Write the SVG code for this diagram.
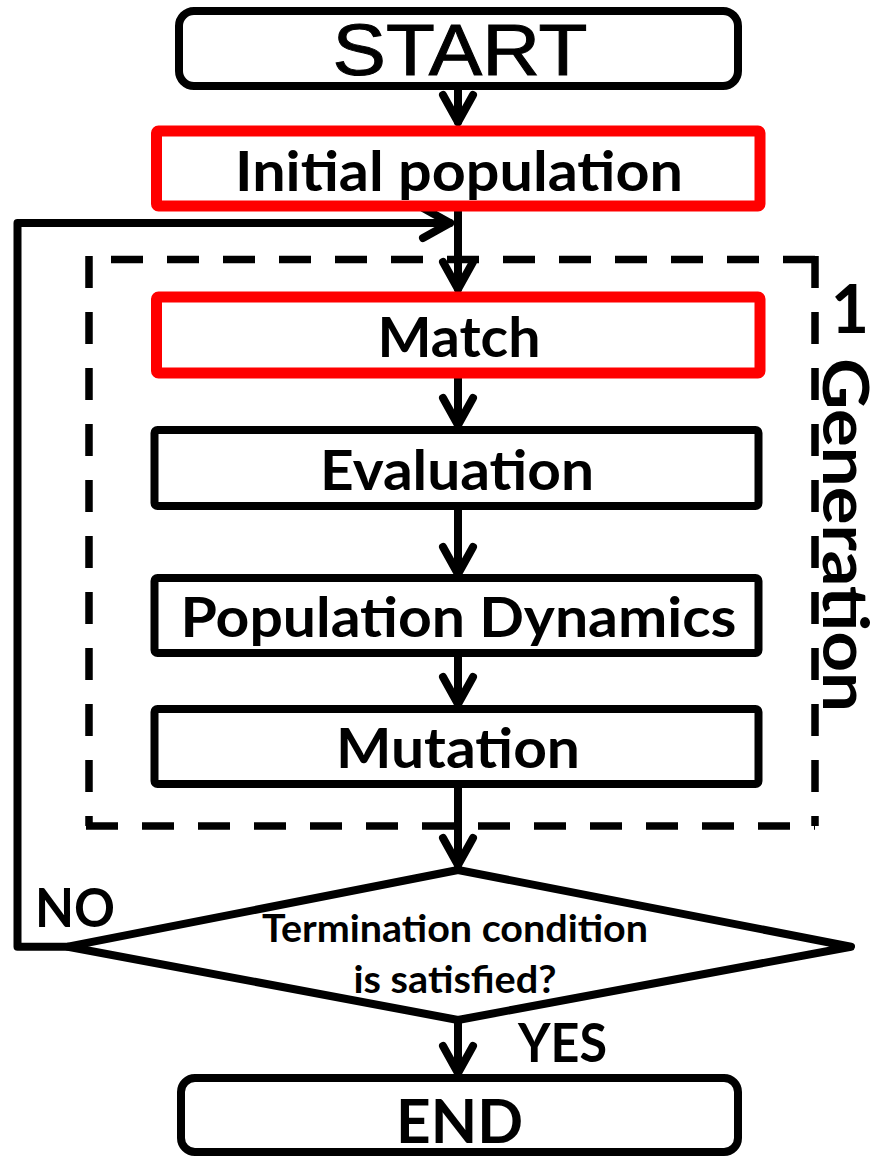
<svg xmlns="http://www.w3.org/2000/svg" width="873" height="1157" viewBox="0 0 873 1157">
<style>
.bg{fill:#fff}
.term{fill:#fff;stroke:#000;stroke-width:8}
.red{fill:#fff;stroke:#ff0000;stroke-width:11;stroke-linejoin:round}
.blk{fill:#fff;stroke:#000;stroke-width:8;stroke-linejoin:round}
.dia{fill:#fff;stroke:#000;stroke-width:8;stroke-linejoin:round}
.con{fill:none;stroke:#000;stroke-width:8;stroke-linecap:round;stroke-linejoin:round}
.dash{fill:none;stroke:#000;stroke-width:7.5;stroke-dasharray:32 24}
.t{font-family:Lato,"Open Sans","DejaVu Sans",sans-serif;font-weight:bold;fill:#000}
.c{text-anchor:middle}
.start{font-family:"Liberation Sans",Arial,sans-serif;font-size:73px;fill:#000;stroke:#000;stroke-width:1;text-anchor:middle}
</style>
<defs>
<marker id="arr" markerUnits="userSpaceOnUse" markerWidth="60" markerHeight="60" viewBox="-40 -30 60 60" refX="0" refY="0" orient="auto" overflow="visible">
<path d="M-27,-15 L0,0 L-27,15" fill="none" stroke="#000" stroke-width="8" stroke-linecap="round" stroke-linejoin="round"/>
</marker>
</defs>
<rect class="bg" x="0" y="0" width="873" height="1157"/>

<g id="generation-frame">
<line class="dash" x1="815" y1="259.5" x2="89" y2="259.5"/>
<line class="dash" x1="89" y1="256" x2="89" y2="826"/>
<line class="dash" x1="86" y1="826" x2="815" y2="826"/>
<line class="dash" x1="815" y1="256" x2="815" y2="826"/>
<text class="t c" x="850" y="333" font-size="66">1</text>
<text class="t" transform="translate(823,358) rotate(90)" font-size="64" textLength="354" lengthAdjust="spacingAndGlyphs">Generation</text>
</g>

<g id="connectors">
<path class="con" d="M458,89 L458,122" marker-end="url(#arr)"/>
<path class="con" d="M458,206 L458,289" marker-end="url(#arr)"/>
<path class="con" d="M458,373 L458,425" marker-end="url(#arr)"/>
<path class="con" d="M458,506 L458,574" marker-end="url(#arr)"/>
<path class="con" d="M458,653 L458,704" marker-end="url(#arr)"/>
<path class="con" d="M458,784 L458,865" marker-end="url(#arr)"/>
<path class="con" d="M458,1020 L458,1073" marker-end="url(#arr)"/>
<path class="con" d="M68,946.7 L17.5,946.7 L17.5,223 L450,223" marker-end="url(#arr)"/>
</g>

<g id="start">
<rect class="term" x="179" y="11" width="559" height="75" rx="15"/>
<text class="start" x="460" y="75" textLength="255" lengthAdjust="spacingAndGlyphs">START</text>
</g>

<g id="initial-population">
<rect class="red" x="156.5" y="131" width="603.5" height="75" rx="2"/>
<text class="t c" x="459" y="190.7" font-size="56" textLength="448" lengthAdjust="spacingAndGlyphs">Initial population</text>
</g>

<g id="match">
<rect class="red" x="156.5" y="297" width="603.5" height="76" rx="2"/>
<text class="t c" x="459" y="356.5" font-size="56" textLength="163" lengthAdjust="spacingAndGlyphs">Match</text>
</g>

<g id="evaluation">
<rect class="blk" x="154.5" y="430" width="604" height="76" rx="3"/>
<text class="t c" x="457" y="490" font-size="56" textLength="274" lengthAdjust="spacingAndGlyphs">Evaluation</text>
</g>

<g id="population-dynamics">
<rect class="blk" x="154.5" y="578" width="604" height="75" rx="3"/>
<text class="t c" x="458.5" y="637" font-size="56" textLength="556" lengthAdjust="spacingAndGlyphs">Population Dynamics</text>
</g>

<g id="mutation">
<rect class="blk" x="154.5" y="709" width="604" height="75" rx="3"/>
<text class="t c" x="458" y="768" font-size="56" textLength="244" lengthAdjust="spacingAndGlyphs">Mutation</text>
</g>

<g id="termination">
<polygon class="dia" points="458,870 851,946.7 458,1020 68,946.7"/>
<text class="t c" x="455" y="941.7" font-size="37.7" textLength="386" lengthAdjust="spacingAndGlyphs">Termination condition</text>
<text class="t c" x="455" y="993.3" font-size="37.7" textLength="203" lengthAdjust="spacingAndGlyphs">is satisfied?</text>
</g>

<g id="labels">
<text class="t" x="35" y="926.7" font-size="54" textLength="80" lengthAdjust="spacingAndGlyphs">NO</text>
<text class="t" x="518" y="1061.7" font-size="53" textLength="89" lengthAdjust="spacingAndGlyphs">YES</text>
</g>

<g id="end">
<rect class="term" x="181" y="1078" width="557" height="74" rx="14"/>
<text class="t c" x="459.5" y="1143.3" font-size="62" textLength="127" lengthAdjust="spacingAndGlyphs">END</text>
</g>
</svg>
